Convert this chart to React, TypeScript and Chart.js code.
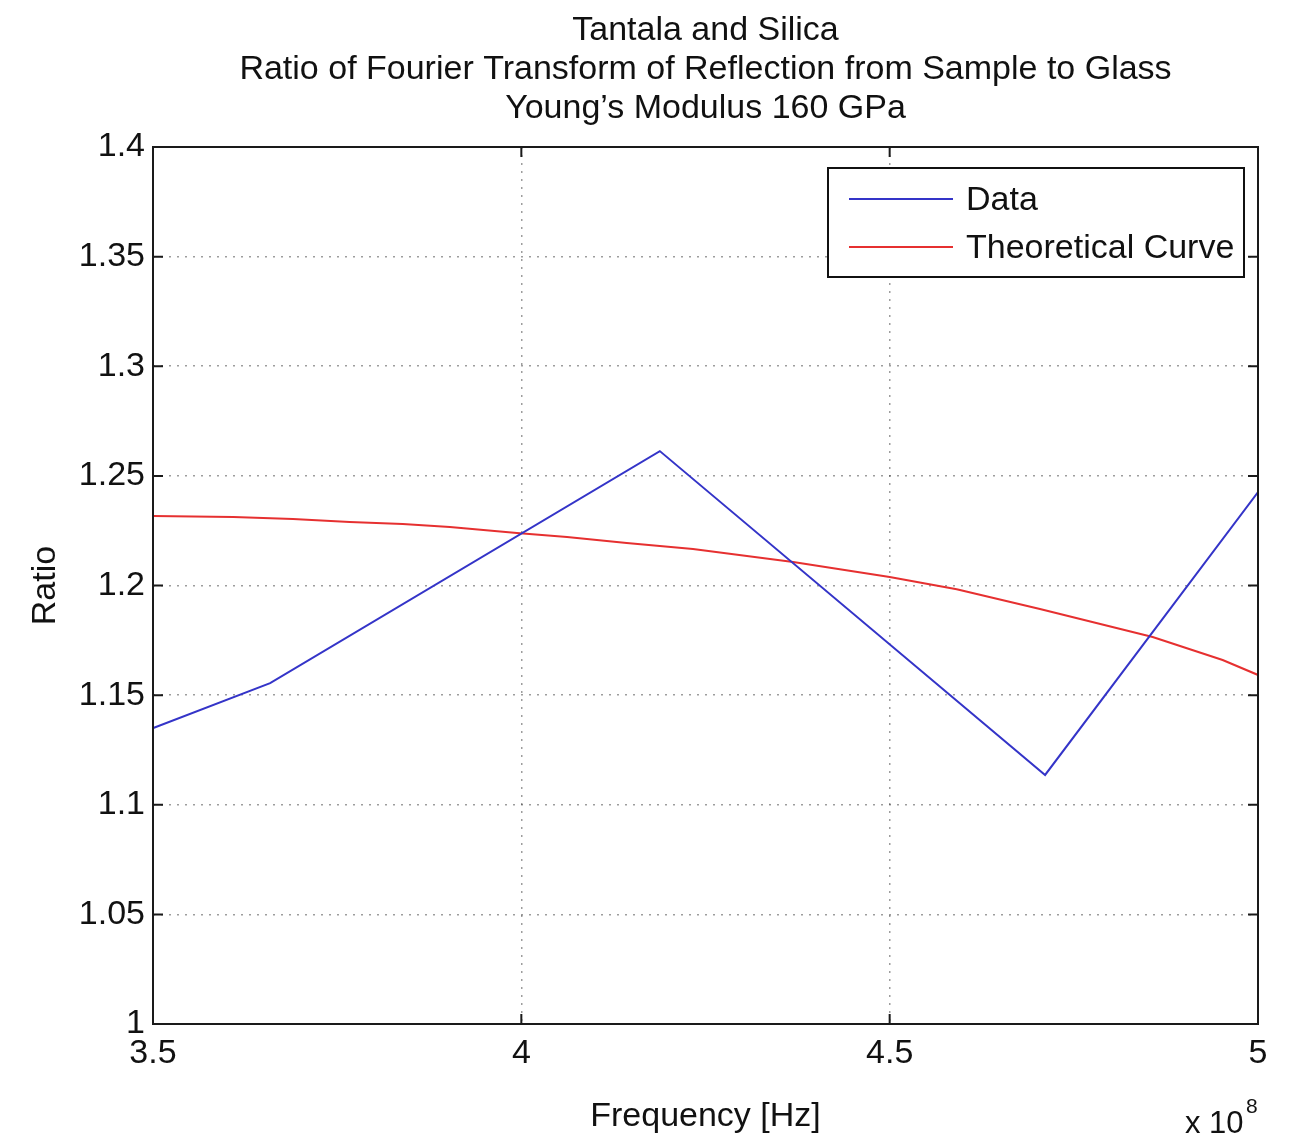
import React, { useEffect, useRef } from "react";
import { Chart, registerables } from "chart.js";

Chart.register(...registerables);

const titleLines = [
  "Tantala and Silica",
  "Ratio of Fourier Transform of Reflection from Sample to Glass",
  "Young\u2019s Modulus 160 GPa",
];
const xAxisTitle = "Frequency [Hz]";
const yAxisTitle = "Ratio";
const xExponentBase = "x 10";
const xExponent = "8";
const seriesLabels = ["Data", "Theoretical Curve"];

// Frequency in units of 1e8 Hz
const dataFreq = [3.133, 3.659, 4.188, 4.711, 5.237];
const dataRatio = [1.0876, 1.1555, 1.2613, 1.1136, 1.3484];

const theoryFreq = [3.5, 3.609, 3.69, 3.767, 3.839, 3.903, 3.994, 4.062, 4.143, 4.233, 4.369, 4.5, 4.591, 4.704, 4.857, 4.952, 5.0];
const theoryRatio = [1.2317, 1.2312, 1.2303, 1.229, 1.2281, 1.2267, 1.2239, 1.2221, 1.2194, 1.2167, 1.2107, 1.2039, 1.1983, 1.1893, 1.1765, 1.166, 1.1592];

const xTicks = [3.5, 4, 4.5, 5];
const yTicks = [1, 1.05, 1.1, 1.15, 1.2, 1.25, 1.3, 1.35, 1.4];
const xTickLabels = ["3.5", "4", "4.5", "5"];
const yTickLabels = ["1", "1.05", "1.1", "1.15", "1.2", "1.25", "1.3", "1.35", "1.4"];

const FONT = "'Liberation Sans', Arial, Helvetica, sans-serif";

const matlabPlugin = {
  id: "matlabDecor",
  afterDatasetsDraw(chart: any) {
    const { ctx, chartArea, scales } = chart;
    const { left, right, top, bottom } = chartArea;
    ctx.save();
    // box
    ctx.strokeStyle = "#1a1a1a";
    ctx.lineWidth = 2;
    ctx.strokeRect(left, top, right - left, bottom - top);
    // inward ticks
    const tl = 10;
    ctx.lineWidth = 2;
    ctx.beginPath();
    for (const v of xTicks) {
      const px = scales.x.getPixelForValue(v);
      ctx.moveTo(px, bottom);
      ctx.lineTo(px, bottom - tl);
      ctx.moveTo(px, top);
      ctx.lineTo(px, top + tl);
    }
    for (const v of yTicks) {
      const py = scales.y.getPixelForValue(v);
      ctx.moveTo(left, py);
      ctx.lineTo(left + tl, py);
      ctx.moveTo(right, py);
      ctx.lineTo(right - tl, py);
    }
    ctx.stroke();

    // legend box
    const bx = 828, by = 168, bw = 416, bh = 109;
    ctx.fillStyle = "#ffffff";
    ctx.fillRect(bx, by, bw, bh);
    ctx.strokeStyle = "#111";
    ctx.lineWidth = 2;
    ctx.strokeRect(bx, by, bw, bh);
    const rows = [199, 247];
    chart.data.datasets.forEach((ds: any, i: number) => {
      const y = rows[i];
      ctx.strokeStyle = ds.borderColor;
      ctx.lineWidth = 1.8;
      ctx.beginPath();
      ctx.moveTo(849, y);
      ctx.lineTo(953, y);
      ctx.stroke();
      ctx.fillStyle = "#111";
      ctx.font = `34px ${FONT}`;
      ctx.textAlign = "left";
      ctx.textBaseline = "middle";
      ctx.fillText(ds.label, 966, y + 2);
    });

    // exponent label
    ctx.fillStyle = "#111";
    ctx.textAlign = "left";
    ctx.textBaseline = "alphabetic";
    ctx.font = `31px ${FONT}`;
    ctx.fillText(xExponentBase, 1185, 1133);
    ctx.font = `21px ${FONT}`;
    ctx.fillText(xExponent, 1246, 1113);
    ctx.restore();
  },
};

export default function App() {
  const ref = useRef<HTMLCanvasElement | null>(null);

  useEffect(() => {
    if (!ref.current) return;
    const gridColor = (c: any) => {
      const v = c.tick?.value;
      const s = c.scale;
      if (v === s.min || v === s.max) return "rgba(0,0,0,0)";
      return "rgba(60,60,60,0.5)";
    };
    const chart = new Chart(ref.current, {
      type: "line",
      data: {
        datasets: [
          {
            label: seriesLabels[0],
            data: dataFreq.map((x, i) => ({ x, y: dataRatio[i] })),
            borderColor: "#3434c8",
            borderWidth: 2,
            pointRadius: 0,
            tension: 0,
            fill: false,
          },
          {
            label: seriesLabels[1],
            data: theoryFreq.map((x, i) => ({ x, y: theoryRatio[i] })),
            borderColor: "#e63030",
            borderWidth: 2,
            pointRadius: 0,
            tension: 0,
            fill: false,
          },
        ],
      },
      options: {
        animation: false,
        responsive: false,
        layout: { padding: { left: 0, right: 36, top: 0, bottom: 0 } },
        plugins: {
          legend: { display: false },
          tooltip: { enabled: false },
          title: {
            display: true,
            fullSize: false,
            text: titleLines,
            color: "#111",
            font: { family: FONT, size: 34, weight: "normal", lineHeight: 39 / 34 },
            padding: { top: 11, bottom: 19 },
          },
        },
        scales: {
          x: {
            type: "linear",
            min: 3.5,
            max: 5,
            afterBuildTicks: (s: any) => {
              s.ticks = xTicks.map((v) => ({ value: v }));
            },
            afterFit: (s: any) => {
              s.height = 113;
            },
            grid: { color: gridColor, lineWidth: 1.5, drawTicks: false },
            border: { display: false, dash: [2, 6] },
            ticks: {
              padding: 9,
              color: "#111",
              font: { family: FONT, size: 34 },
              maxRotation: 0,
              autoSkip: false,
              callback: (v: any) => xTickLabels[xTicks.indexOf(Number(v))] ?? String(v),
            },
            title: {
              display: true,
              text: xAxisTitle,
              color: "#111",
              font: { family: FONT, size: 34 },
              padding: { top: 17, bottom: 0 },
            },
          },
          y: {
            type: "linear",
            min: 1,
            max: 1.4,
            afterBuildTicks: (s: any) => {
              s.ticks = yTicks.map((v) => ({ value: v }));
            },
            afterFit: (s: any) => {
              s.width = 153;
            },
            grid: { color: gridColor, lineWidth: 1.5, drawTicks: false },
            border: { display: false, dash: [2, 6] },
            ticks: {
              padding: 8,
              color: "#111",
              font: { family: FONT, size: 34 },
              autoSkip: false,
              callback: (v: any) => {
                const idx = yTicks.findIndex((t) => Math.abs(t - Number(v)) < 1e-9);
                return idx >= 0 ? yTickLabels[idx] : String(v);
              },
            },
            title: {
              display: true,
              text: yAxisTitle,
              color: "#111",
              font: { family: FONT, size: 34 },
              padding: { top: 25, bottom: 0 },
            },
          },
        },
      } as any,
      plugins: [matlabPlugin],
    });
    return () => chart.destroy();
  }, []);

  return (
    <div style={{ position: "fixed", left: 0, top: 0, width: 1294, height: 1137, background: "#fff" }}>
      <canvas ref={ref} width={1294} height={1137} />
    </div>
  );
}
